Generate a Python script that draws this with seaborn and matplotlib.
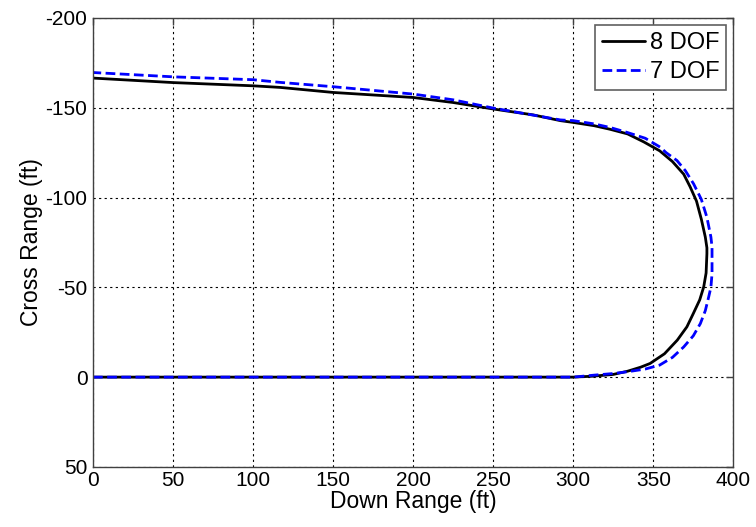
import matplotlib
matplotlib.use('Agg')
import matplotlib.pyplot as plt
import seaborn as sns

# 8 DOF trajectory (down range, cross range) in ft
x8 = [0, 100, 200, 300, 312, 325, 334, 342, 348, 357, 365, 371, 375, 379, 381.5,
      383, 383.5, 383.5, 382.5, 380, 377, 373, 369, 362, 354, 344, 334, 323, 313,
      300, 292, 275, 250, 225, 200, 150, 117, 100, 50, 0]
y8 = [0, 0, 0, 0, -0.5, -1.5, -3.3, -5.5, -7.6, -13, -20.6, -28, -35.4, -43, -50.2,
      -58, -68.7, -72, -78, -88, -98, -106, -113, -120, -126, -131, -135.4, -138, -140,
      -141.8, -142.8, -146, -149.3, -152.9, -155.7, -158.5, -161.3, -162.2, -164, -166.5]

# 7 DOF trajectory
x7 = [0, 100, 200, 300, 313, 325, 334, 345, 354, 362, 369, 375, 379.4, 382.5, 384.6,
      386, 386.7, 386.7, 386.7, 386, 383.5, 380, 375.2, 370, 364.8, 358, 354.4, 345,
      333.5, 323, 313, 300, 292, 250, 225, 200, 150, 117, 100, 50, 0]
y7 = [0, 0, 0, 0, -1.1, -2, -3, -4.5, -6.7, -11, -16.8, -23, -29.8, -37, -44.6,
      -50, -57.6, -65, -72.4, -78, -89, -99, -107.6, -115, -120.6, -125, -128, -133,
      -136.3, -139, -141, -142.8, -143.2, -149.8, -154.4, -157.6, -161.7, -164.1,
      -165.6, -167.2, -169.6]

sns.set_style('white')
plt.rcParams['font.family'] = ['Liberation Sans', 'DejaVu Sans']
plt.rcParams['axes.unicode_minus'] = False
plt.rcParams['text.color'] = 'black'
plt.rcParams['axes.labelcolor'] = 'black'
plt.rcParams['xtick.color'] = 'black'
plt.rcParams['ytick.color'] = 'black'

fig = plt.figure(figsize=(7.56, 5.27), dpi=100)
ax = fig.add_axes([0.123, 0.114, 0.847, 0.852])

sns.lineplot(x=x8, y=y8, sort=False, estimator=None, color='black',
             linewidth=2.0, label='8 DOF', ax=ax)
sns.lineplot(x=x7, y=y7, sort=False, estimator=None, color='#0000ff',
             linewidth=2.0, label='7 DOF', ax=ax)
ax.lines[1].set_dashes((3.5, 1.6))

ax.set_xlim(0, 400)
ax.set_ylim(50, -200)
ax.set_xticks(range(0, 401, 50))
ax.set_yticks(range(-200, 51, 50))

ax.grid(True, color='black', linestyle=(0, (2, 3)), linewidth=0.8)
for s in ax.spines.values():
    s.set_color('#404040')
    s.set_linewidth(1.0)
ax.tick_params(direction='in', length=5, width=1, color='#404040',
               top=True, right=True, labelsize=15, pad=3)
ax.tick_params(axis='y', pad=4)

ax.set_xlabel('Down Range (ft)', fontsize=16.5, labelpad=0)
ax.set_ylabel('Cross Range (ft)', fontsize=16.5, labelpad=2)

leg = ax.legend(loc='upper right', fontsize=17, fancybox=False, framealpha=1,
                edgecolor='#606060', handlelength=1.8, handletextpad=0.2,
                borderaxespad=0.3, labelspacing=0.3, borderpad=0.3)
leg.get_frame().set_linewidth(1.2)

plt.savefig('out.png', dpi=100)
